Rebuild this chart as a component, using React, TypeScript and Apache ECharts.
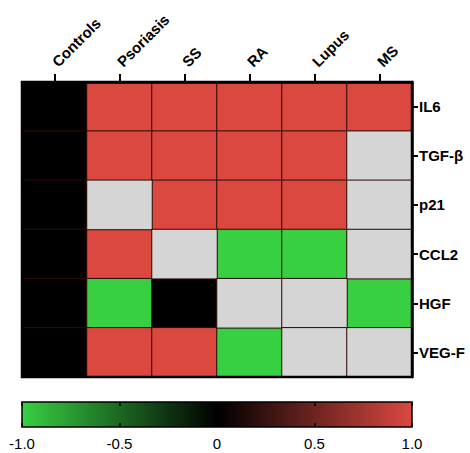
import React, { useEffect, useRef } from "react";
import * as echarts from "echarts";

const columns = ["Controls", "Psoriasis", "SS", "RA", "Lupus", "MS"];
const rows = ["IL6", "TGF-β", "p21", "CCL2", "HGF", "VEG-F"];
// values per row, by column; null = not determined (grey)
const il6 = [0, 1, 1, 1, 1, 1];
const tgfb = [0, 1, 1, 1, 1, null];
const p21 = [0, null, 1, 1, 1, null];
const ccl2 = [0, 1, null, -1, -1, null];
const hgf = [0, -1, 0, null, null, -1];
const vegf = [0, 1, 1, -1, null, null];
const rowValues = [il6, tgfb, p21, ccl2, hgf, vegf];
const scaleTicks = [-1, -0.5, 0, 0.5, 1];
const scaleRange = [-1, 1];

const GREEN = "#38cf43";
const RED = "#da4840";
const GREY = "#d5d5d5";

export default function App() {
  const ref = useRef<HTMLDivElement>(null);
  useEffect(() => {
    const chart = echarts.init(ref.current!, null, { renderer: "svg" });
    const valued: any[] = [];
    const missing: any[] = [];
    rowValues.forEach((vals, r) => {
      vals.forEach((v, c) => {
        if (v === null) missing.push([c, r, 0]);
        else valued.push([c, r, v]);
      });
    });
    const font = "'Liberation Sans', Arial, sans-serif";
    chart.setOption({
      animation: false,
      textStyle: { fontFamily: font },
      grid: [
        {
          left: 22,
          top: 82,
          width: 390,
          height: 295,
          show: true,
          borderColor: "#000",
          borderWidth: 2.5,
          backgroundColor: "transparent",
          z: 5,
        },
        { left: 22, top: 402, width: 390, height: 25 },
      ],
      xAxis: [
        {
          type: "category",
          gridIndex: 0,
          data: columns,
          position: "top",
          z: 6,
          axisLine: { show: true, lineStyle: { color: "#000", width: 2.5 } },
          axisTick: { show: true, alignWithLabel: true, length: 8, lineStyle: { color: "#000", width: 2 } },
          axisLabel: {
            rotate: -45,
            margin: 18,
            fontSize: 15,
            fontWeight: "bold",
            color: "#000",
            fontFamily: font,
          },
          splitLine: { show: false },
        },
        {
          type: "value",
          gridIndex: 1,
          min: scaleRange[0],
          max: scaleRange[1],
          interval: 0.5,
          position: "bottom",
          z: 6,
          axisLine: { show: false },
          axisTick: { show: true, inside: true, length: 4, lineStyle: { color: "#000", width: 1.5 } },
          axisLabel: {
            fontSize: 15,
            color: "#000",
            margin: 9,
            fontFamily: font,
            formatter: (v: number) => (v === 0 ? "0" : v.toFixed(1)),
          },
          splitLine: { show: false },
        },
        {
          type: "value",
          gridIndex: 1,
          min: scaleRange[0],
          max: scaleRange[1],
          interval: 0.5,
          position: "top",
          z: 6,
          axisLine: { show: false },
          axisTick: { show: true, inside: true, length: 4, lineStyle: { color: "#000", width: 1.5 } },
          axisLabel: { show: false },
          splitLine: { show: false },
        },
      ],
      yAxis: [
        {
          type: "category",
          gridIndex: 0,
          data: rows,
          inverse: true,
          position: "right",
          z: 6,
          axisLine: { show: true, lineStyle: { color: "#000", width: 2.5 } },
          axisTick: { show: true, alignWithLabel: true, length: 6, lineStyle: { color: "#000", width: 2 } },
          axisLabel: {
            margin: 7,
            fontSize: 15,
            fontWeight: "bold",
            color: "#000",
            fontFamily: font,
          },
          splitLine: { show: false },
        },
        { type: "value", gridIndex: 1, min: 0, max: 1, show: false },
      ],
      visualMap: [
        {
          show: false,
          type: "continuous",
          seriesIndex: 0,
          min: scaleTicks[0],
          max: scaleTicks[scaleTicks.length - 1],
          inRange: { color: [GREEN, "#000000", RED] },
        },
        {
          show: false,
          type: "continuous",
          seriesIndex: 1,
          min: -1,
          max: 1,
          inRange: { color: [GREY, GREY] },
        },
      ],
      series: [
        {
          type: "heatmap",
          xAxisIndex: 0,
          yAxisIndex: 0,
          data: valued,
          itemStyle: { borderColor: "#2e0a06", borderWidth: 1 },
          emphasis: { disabled: true },
        },
        {
          type: "heatmap",
          xAxisIndex: 0,
          yAxisIndex: 0,
          data: missing,
          itemStyle: { borderColor: "#2e0a06", borderWidth: 1 },
          emphasis: { disabled: true },
        },
        {
          type: "custom",
          xAxisIndex: 1,
          yAxisIndex: 1,
          data: [scaleRange],
          encode: { x: [0, 1] },
          z: 1,
          renderItem: (params: any, api: any) => {
            const s = api.coord([api.value(0), 0]);
            const e = api.coord([api.value(1), 1]);
            return {
              type: "rect",
              shape: { x: s[0], y: e[1], width: e[0] - s[0], height: s[1] - e[1] },
              style: {
                fill: new echarts.graphic.LinearGradient(0, 0, 1, 0, [
                  { offset: 0, color: GREEN },
                  { offset: 0.5, color: "#000000" },
                  { offset: 1, color: RED },
                ]),
                stroke: "#000",
                lineWidth: 1.5,
              },
            };
          },
        },
      ],
    });
    return () => chart.dispose();
  }, []);
  return (
    <div
      ref={ref}
      style={{ position: "absolute", left: 0, top: 0, width: 470, height: 453 }}
    />
  );
}
